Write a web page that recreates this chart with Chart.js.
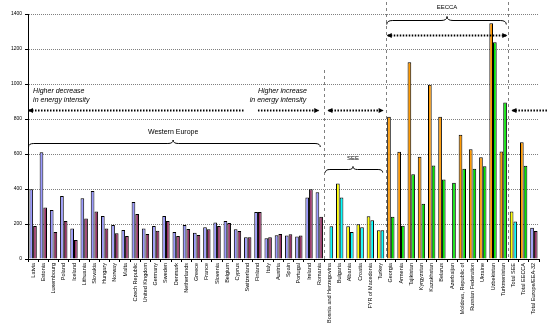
<!DOCTYPE html>
<html>
<head>
<meta charset="utf-8">
<script src="https://cdn.jsdelivr.net/npm/chart.js@4"></script>
<style>
  body { margin: 0; background: #fff; }
  #grafiku { display: block; }
</style>
</head>
<body>
<canvas id="grafiku" width="547" height="336"></canvas>
<script>
// vendet dhe grupet
const vendet = [
  'Latvia', 'Estonia', 'Luxembourg', 'Poland', 'Iceland', 'Lithuania', 'Slovakia', 'Hungary',
  'Norway', 'Malta', 'Czech Republic', 'United Kingdom', 'Germany', 'Sweden', 'Denmark',
  'Netherlands', 'Greece', 'France', 'Slovenia', 'Belgium', 'Cyprus', 'Switzerland', 'Finland',
  'Italy', 'Austria', 'Spain', 'Portugal', 'Ireland', 'Romania',
  'Bosnia and Herzegovina', 'Bulgaria', 'Albania', 'Croatia', 'FYR of Macedonia', 'Turkey',
  'Georgia', 'Armenia', 'Tajikistan', 'Kyrgyzstan', 'Kazakhstan', 'Belarus', 'Azerbaijan',
  'Moldova, Republic of', 'Russian Federation', 'Ukraine', 'Uzbekistan', 'Turkmenistan',
  'Total SEE', 'Total EECCA', 'Total Europe/EEA-32'
];
const grupet = [
  'WE','WE','WE','WE','WE','WE','WE','WE','WE','WE','WE','WE','WE','WE','WE',
  'WE','WE','WE','WE','WE','WE','WE','WE','WE','WE','WE','WE','WE','WE',
  'SEE','SEE','SEE','SEE','SEE','SEE',
  'EECCA','EECCA','EECCA','EECCA','EECCA','EECCA','EECCA','EECCA','EECCA','EECCA','EECCA','EECCA',
  'SEE','EECCA','WE'
];
const vitiPare = [
  398, 610, 280, 360, 175, 347, 389, 246, 194, 166, 326, 175, 189, 246, 154,
  194, 150, 181, 208, 217, 170, 124, 269, 118, 136, 135, 128, 352, 381,
  null, 432, 187, 198, 244, 164,
  813, 613, 1124, 585, 996, 813, null, 710, 627, 581, 1347, 615,
  272, 667, 179
];
const vitiDyte = [
  189, 295, 154, 217, 109, 232, 272, 175, 147, 131, 257, 143, 162, 217, 131,
  171, 137, 170, 189, 206, 160, 124, 269, 124, 143, 141, 135, 398, 242,
  187, 352, 154, 181, 221, 164,
  242, 190, 484, 316, 535, 455, 436, 516, 516, 530, 1238, 895,
  215, 533, 160
];
const yTicks = [0, 200, 400, 600, 800, 1000, 1200, 1400];

const ngjyraPare = { WE: '#9999FF', SEE: '#FFFF00', EECCA: '#FF9900' };
const ngjyraDyte = { WE: '#993366', SEE: '#00FFFF', EECCA: '#00E600' };

// shigjeta, kllapa dhe tekste
const shenimet = {
  id: 'shenimet',
  afterDraw(chart) {
    const ctx = chart.ctx;
    const x = chart.scales.x, y = chart.scales.y;
    const w = x.getPixelForValue(1) - x.getPixelForValue(0);
    const px = c => x.getPixelForValue(0) + c * w;
    const py = v => y.getPixelForValue(v);
    const bottom = chart.chartArea.bottom;

    ctx.save();
    // vijat vertikale me nderprerje
    ctx.strokeStyle = '#808080';
    ctx.lineWidth = 1;
    ctx.setLineDash([3, 3]);
    [[28.5, 70], [34.5, 2], [46.5, 2]].forEach(([c, top]) => {
      const xx = Math.round(px(c)) + 0.5;
      ctx.beginPath(); ctx.moveTo(xx, top); ctx.lineTo(xx, bottom); ctx.stroke();
    });

    // shigjetat me pika
    const shigjeta = (x1, x2, yy, majtas, djathtas) => {
      ctx.strokeStyle = '#000';
      ctx.lineWidth = 2;
      ctx.setLineDash([1.5, 1.5]);
      ctx.beginPath(); ctx.moveTo(x1, yy); ctx.lineTo(x2, yy); ctx.stroke();
      ctx.setLineDash([]);
      ctx.fillStyle = '#000';
      if (majtas) {
        ctx.beginPath(); ctx.moveTo(x1 - 1, yy); ctx.lineTo(x1 + 4, yy - 2.5); ctx.lineTo(x1 + 4, yy + 2.5); ctx.fill();
      }
      if (djathtas) {
        ctx.beginPath(); ctx.moveTo(x2 + 1, yy); ctx.lineTo(x2 - 4, yy - 2.5); ctx.lineTo(x2 - 4, yy + 2.5); ctx.fill();
      }
    };
    const ya = Math.round(py(850)) + 0.5;
    shigjeta(px(-0.5) + 1, px(20.7), ya, true, false);
    shigjeta(px(22.0), px(27.9), ya, false, true);
    shigjeta(px(28.9), px(34.2), ya, true, true);
    shigjeta(px(46.9), chart.width, ya, true, false);
    shigjeta(px(34.7), px(46.3), Math.round(py(1280)) + 0.5, true, true);

    // kllapat
    const kllapa = (x1, x2, xm, yy, d) => {
      ctx.strokeStyle = '#000';
      ctx.lineWidth = 1;
      ctx.setLineDash([]);
      ctx.beginPath();
      ctx.moveTo(x1, yy + d);
      ctx.quadraticCurveTo(x1, yy, x1 + d * 1.5, yy);
      ctx.lineTo(xm - d * 1.5, yy);
      ctx.quadraticCurveTo(xm, yy, xm, yy - d);
      ctx.quadraticCurveTo(xm, yy, xm + d * 1.5, yy);
      ctx.lineTo(x2 - d * 1.5, yy);
      ctx.quadraticCurveTo(x2, yy, x2, yy + d);
      ctx.stroke();
    };
    kllapa(px(-0.45), px(28.1), px(13.7), Math.round(py(663)) + 0.5, 3.5);
    kllapa(px(28.6), px(34.2), px(31.3), Math.round(py(514)) + 0.5, 3);
    kllapa(px(34.6), px(46.3), px(40.5), Math.round(py(1366)) + 0.5, 4);

    // tekstet
    ctx.fillStyle = '#000';
    ctx.textBaseline = 'middle';
    ctx.font = 'italic 7px "Liberation Sans", Arial, sans-serif';
    ctx.textAlign = 'left';
    ctx.fillText('Higher decrease', px(0), py(960));
    ctx.fillText('in energy intensity', px(0), py(909));
    ctx.fillText('Higher increase', px(22.0), py(960));
    ctx.fillText('in energy intensity', px(21.2), py(909));

    ctx.textAlign = 'center';
    ctx.font = '7px "Liberation Sans", Arial, sans-serif';
    ctx.fillText('Western Europe', px(13.7), py(726));
    ctx.font = '6px "Liberation Sans", Arial, sans-serif';
    ctx.fillText('SEE', px(31.3), py(577));
    ctx.fillText('EECCA', px(40.5), 7);
    ctx.restore();
  }
};

new Chart(document.getElementById('grafiku'), {
  type: 'bar',
  data: {
    labels: vendet,
    datasets: [{
      label: 'Viti i pare',
      data: vitiPare,
      backgroundColor: grupet.map(g => ngjyraPare[g]),
      borderColor: '#000',
      borderWidth: 1
    }, {
      label: 'Viti i dyte',
      data: vitiDyte,
      backgroundColor: grupet.map(g => ngjyraDyte[g]),
      borderColor: '#000',
      borderWidth: 1
    }]
  },
  options: {
    responsive: false,
    animation: false,
    categoryPercentage: 0.72,
    barPercentage: 1.0,
    layout: { padding: { top: 14, right: 8, left: 0, bottom: 0 } },
    plugins: {
      legend: { display: false },
      tooltip: { enabled: false }
    },
    scales: {
      x: {
        afterFit: s => { s.height = 77; },
        ticks: {
          autoSkip: false,
          maxRotation: 90,
          minRotation: 90,
          padding: 1,
          color: '#000',
          font: { size: 5.5, family: '"Liberation Sans", Arial, sans-serif' }
        },
        grid: { drawOnChartArea: false, tickLength: 3, color: '#000' },
        border: { display: true, color: '#000', width: 1 }
      },
      y: {
        min: 0,
        max: 1400,
        afterFit: s => { s.width = 28; },
        afterBuildTicks: s => { s.ticks = yTicks.map(v => ({ value: v })); },
        ticks: {
          color: '#000',
          padding: 3,
          callback: v => String(v),
          font: { size: 5, family: '"Liberation Sans", Arial, sans-serif' }
        },
        grid: { color: '#808080', lineWidth: 1, tickLength: 3, tickColor: '#000' },
        border: { display: true, color: '#000', width: 1, dash: [1, 1] }
      }
    }
  },
  plugins: [shenimet]
});
</script>
</body>
</html>
